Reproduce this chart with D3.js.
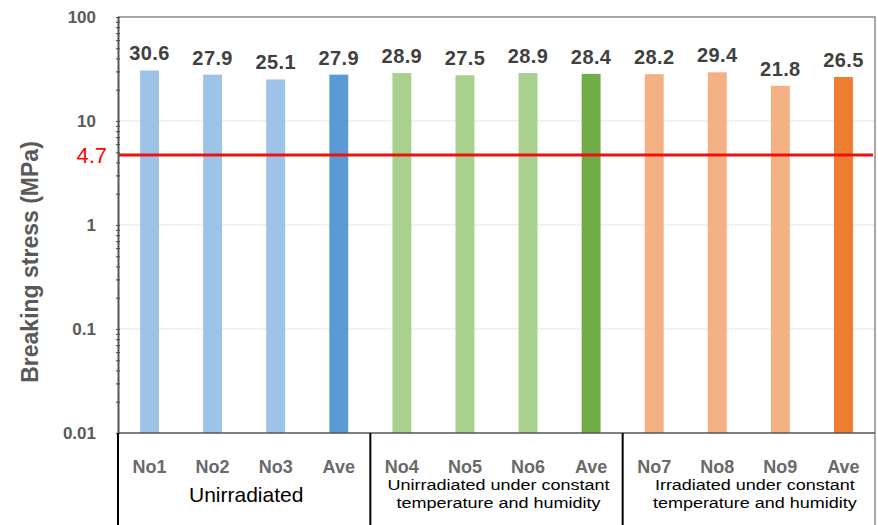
<!DOCTYPE html>
<html>
<head>
<meta charset="utf-8">
<script src="https://cdn.jsdelivr.net/npm/d3@7"></script>
<style>
  html, body { margin: 0; padding: 0; background: #fff; }
  svg { display: block; font-family: "Liberation Sans", Arial, sans-serif; }
</style>
</head>
<body>
<svg id="chart" width="878" height="525"></svg>
<script>
// ---- data ----
const categories = ["No1", "No2", "No3", "Ave", "No4", "No5", "No6", "Ave", "No7", "No8", "No9", "Ave"];
const values = [30.6, 27.9, 25.1, 27.9, 28.9, 27.5, 28.9, 28.4, 28.2, 29.4, 21.8, 26.5];
const groupOf = [0, 0, 0, 0, 1, 1, 1, 1, 2, 2, 2, 2];
const groupLabels = [
  ["Unirradiated"],
  ["Unirradiated under constant", "temperature and humidity"],
  ["Irradiated under constant", "temperature and humidity"]
];
const yTickValues = [0.01, 0.1, 1, 10, 100];
const yTickLabels = ["0.01", "0.1", "1", "10", "100"];
const thresholdValue = 4.7;
const thresholdLabel = "4.7";
const yTitle = "Breaking stress (MPa)";

// ---- styles ----
const barColors = ["#9dc3e6", "#9dc3e6", "#9dc3e6", "#5b9bd5",
                   "#a9d18e", "#a9d18e", "#a9d18e", "#70ad47",
                   "#f4b183", "#f4b183", "#f4b183", "#ed7d31"];

const L = 118, R = 875, T = 17, B = 433;
const svg = d3.select("#chart");

const idx = d3.range(categories.length);
const x = d3.scaleBand().domain(idx).range([L, R]).paddingInner(0.7).paddingOuter(0.35);
const y = d3.scaleLog().domain([0.01, 100]).range([B, T]);

// gridlines
svg.append("g").selectAll("line")
  .data(yTickValues.slice(1, -1))
  .join("line")
  .attr("x1", L).attr("x2", R)
  .attr("y1", d => y(d)).attr("y2", d => y(d))
  .attr("stroke", "#e3e3e3").attr("stroke-width", 1);

// plot frame top/right
svg.append("path")
  .attr("d", `M${L},${T}H${R}V${B}`)
  .attr("fill", "none").attr("stroke", "#8a8a8a").attr("stroke-width", 1.5);
svg.append("line")
  .attr("x1", R).attr("x2", R).attr("y1", B).attr("y2", 525)
  .attr("stroke", "#8a8a8a").attr("stroke-width", 1.5);

// bars
svg.append("g").selectAll("rect")
  .data(idx)
  .join("rect")
  .attr("x", i => x(i))
  .attr("width", x.bandwidth())
  .attr("y", i => y(values[i]))
  .attr("height", i => y(0.01) - y(values[i]))
  .attr("fill", i => barColors[i]);

// value labels
svg.append("g").selectAll("text")
  .data(idx)
  .join("text")
  .attr("x", i => x(i) + x.bandwidth() / 2)
  .attr("y", i => y(values[i]) - 10)
  .attr("text-anchor", "middle")
  .attr("font-size", 20).attr("font-weight", "bold")
  .attr("letter-spacing", 0.4)
  .attr("fill", "#404040")
  .text(i => values[i].toFixed(1));

// threshold line
svg.append("line")
  .attr("x1", L).attr("x2", R - 2)
  .attr("y1", y(thresholdValue)).attr("y2", y(thresholdValue))
  .attr("stroke", "#ee1111").attr("stroke-width", 3);
svg.append("text")
  .attr("x", 107).attr("y", y(thresholdValue) + 8)
  .attr("text-anchor", "end")
  .attr("font-size", 22).attr("fill", "#ff0000")
  .text(thresholdLabel);

// y axis: minor + major ticks inward
const yAxisTicks = d3.axisRight(y).tickValues(y.ticks()).tickSize(4).tickFormat("");
const gTicks = svg.append("g").attr("transform", `translate(${L - 2},0)`).call(yAxisTicks);
gTicks.select(".domain").remove();
gTicks.selectAll("line").attr("stroke", "#555").attr("stroke-width", 1.2);

const yAxis = d3.axisLeft(y).tickValues(yTickValues).tickSize(0).tickPadding(22)
  .tickFormat((d, i) => yTickLabels[i]);
const gY = svg.append("g").attr("transform", `translate(${L},0)`).call(yAxis);
gY.select(".domain").attr("stroke", "#555").attr("stroke-width", 2);
gY.selectAll("text")
  .attr("font-family", "'Liberation Sans', Arial, sans-serif")
  .attr("font-size", 17).attr("font-weight", "bold").attr("fill", "#5a5a5a");

// y title
svg.append("text")
  .attr("transform", `translate(38,262) rotate(-90)`)
  .attr("text-anchor", "middle")
  .attr("font-size", 23).attr("font-weight", "bold").attr("fill", "#595959")
  .text(yTitle);

// bottom axis line
svg.append("line")
  .attr("x1", L).attr("x2", R).attr("y1", B).attr("y2", B)
  .attr("stroke", "#555").attr("stroke-width", 1.5);

// category labels
svg.append("g").selectAll("text")
  .data(idx)
  .join("text")
  .attr("x", i => x(i) + x.bandwidth() / 2)
  .attr("y", 473)
  .attr("text-anchor", "middle")
  .attr("font-size", 18).attr("font-weight", "bold")
  .attr("fill", "#6a6a6a")
  .text(i => categories[i]);

// group separators
const groups = d3.range(groupLabels.length).map(g => {
  const members = idx.filter(i => groupOf[i] === g);
  const x0 = x(members[0]) - x.step() * x.paddingInner() / 2;
  const x1 = x(members[members.length - 1]) + x.bandwidth() + x.step() * x.paddingInner() / 2;
  return { g, x0, x1, cx: (x0 + x1) / 2 };
});
svg.append("g").selectAll("line")
  .data(groups)
  .join("line")
  .attr("x1", d => d.x0).attr("x2", d => d.x0)
  .attr("y1", B).attr("y2", 525)
  .attr("stroke", "#000").attr("stroke-width", 2);

// group labels
groups.forEach(d => {
  const lines = groupLabels[d.g];
  const single = lines.length === 1;
  lines.forEach((ln, k) => {
    const cx = d.cx + (d.g === 2 ? 6 : 2);
    const yy = single ? 502 : 490 + k * 17.5;
    svg.append("text")
      .attr("transform", single ? `translate(${cx},${yy})` : `translate(${cx},${yy}) scale(1.2,1)`)
      .attr("text-anchor", "middle")
      .attr("font-size", single ? 21 : 15)
      .attr("fill", "#000")
      .text(ln);
  });
});
</script>
</body>
</html>
